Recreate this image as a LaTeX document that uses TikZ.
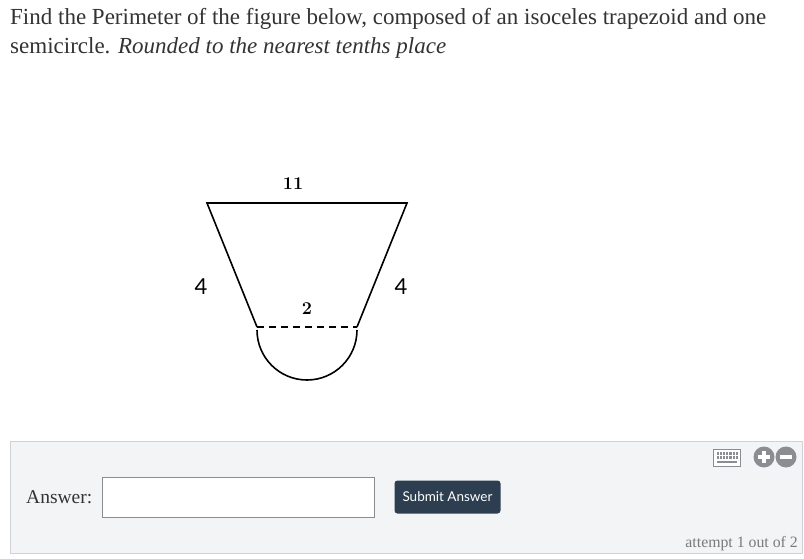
\documentclass[tikz,border=0pt]{standalone}
\usepackage{fontspec}
\setmainfont{Liberation Serif}
\newfontfamily\latofont{Lato}
\newfontfamily\lmfont{Latin Modern Roman}
\definecolor{panelbg}{HTML}{F3F4F6}
\definecolor{panelline}{HTML}{CFD2D6}
\definecolor{btn}{HTML}{2C3E50}
\definecolor{txt}{HTML}{333333}
\definecolor{icongray}{HTML}{8A8D92}
\definecolor{attgray}{HTML}{7A7A7A}
\tikzset{
  edge/.style={line width=1.6pt, line join=miter},
  lbl/.style={inner sep=0pt, font=\lmfont\bfseries\fontsize{18}{20}\selectfont},
  sidelbl/.style={inner sep=0pt, font=\latofont\fontsize{22}{24}\selectfont},
  titletext/.style={anchor=base west, inner sep=0pt, text=txt, font=\fontsize{23}{26}\selectfont},
}
\begin{document}
\begin{tikzpicture}[x=1pt,y=-1pt]
\useasboundingbox (0,0) rectangle (804,559);
\fill[white] (0,0) rectangle (804,559);
% title
\node[titletext] (t1) at (10,25) {Find the Perimeter of the figure below, composed of an isoceles trapezoid and one};
\node[titletext] (t2) at (10,54) {semicircle. \textit{Rounded to the nearest tenths place}};
% figure
\coordinate (tl) at (207,203);
\coordinate (tr) at (407,203);
\coordinate (bl) at (257,327);
\coordinate (br) at (357,327);
\draw[edge] (bl) -- (tl) -- (tr) -- (br);
\draw[line width=1.6pt, dash pattern=on 7pt off 5pt] (bl) -- (br);
\draw[line width=1.6pt] (257,330) arc[start angle=180, end angle=0, radius=50];
\node[lbl] (l11) at (293,184) {11};
\node[lbl] (l2) at (307,309) {2};
\node[sidelbl] (l4a) at (201,287) {4};
\node[sidelbl] (l4b) at (401,287) {4};
% answer panel
\draw[panelline, fill=panelbg, line width=1pt] (10.5,441.5) rectangle (802.5,553.5);
\node[anchor=base west, inner sep=0pt, text=txt, font=\fontsize{19.5}{22}\selectfont] (ans) at (26,503) {Answer:};
\draw[fill=white, draw=gray!90, line width=1pt] (102.5,477.5) rectangle (374.5,517.5);
\node[fill=btn, rounded corners=3pt, minimum width=106pt, minimum height=33pt, inner sep=0pt, text=white, font=\latofont\fontsize{13.5}{15}\selectfont] (sub) at (447.5,497) {Submit Answer};
% keyboard icon
\draw[icongray, line width=1.2pt, fill=white] (713.5,449.5) rectangle (740.5,466.5);
\foreach \i in {0,...,6}{\fill[icongray] (716.5+\i*3.2,452.3) rectangle ++(2.2,2.2);}
\foreach \i in {0,...,6}{\fill[icongray] (716.5+\i*3.2,456.3) rectangle ++(2.2,2.2);}
\fill[icongray] (717,460.5) rectangle (737,462.6);
% plus / minus
\fill[icongray] (764,457) circle (10.5);
\fill[white] (758,455.3) rectangle (770,458.7);
\fill[white] (762.3,451) rectangle (765.7,463);
\fill[icongray] (786,457) circle (10.5);
\fill[white] (780,455.3) rectangle (792,458.7);
\node[anchor=base east, inner sep=0pt, text=attgray, font=\fontsize{15.8}{17}\selectfont] (att) at (798,547) {attempt 1 out of 2};
\end{tikzpicture}
\end{document}
